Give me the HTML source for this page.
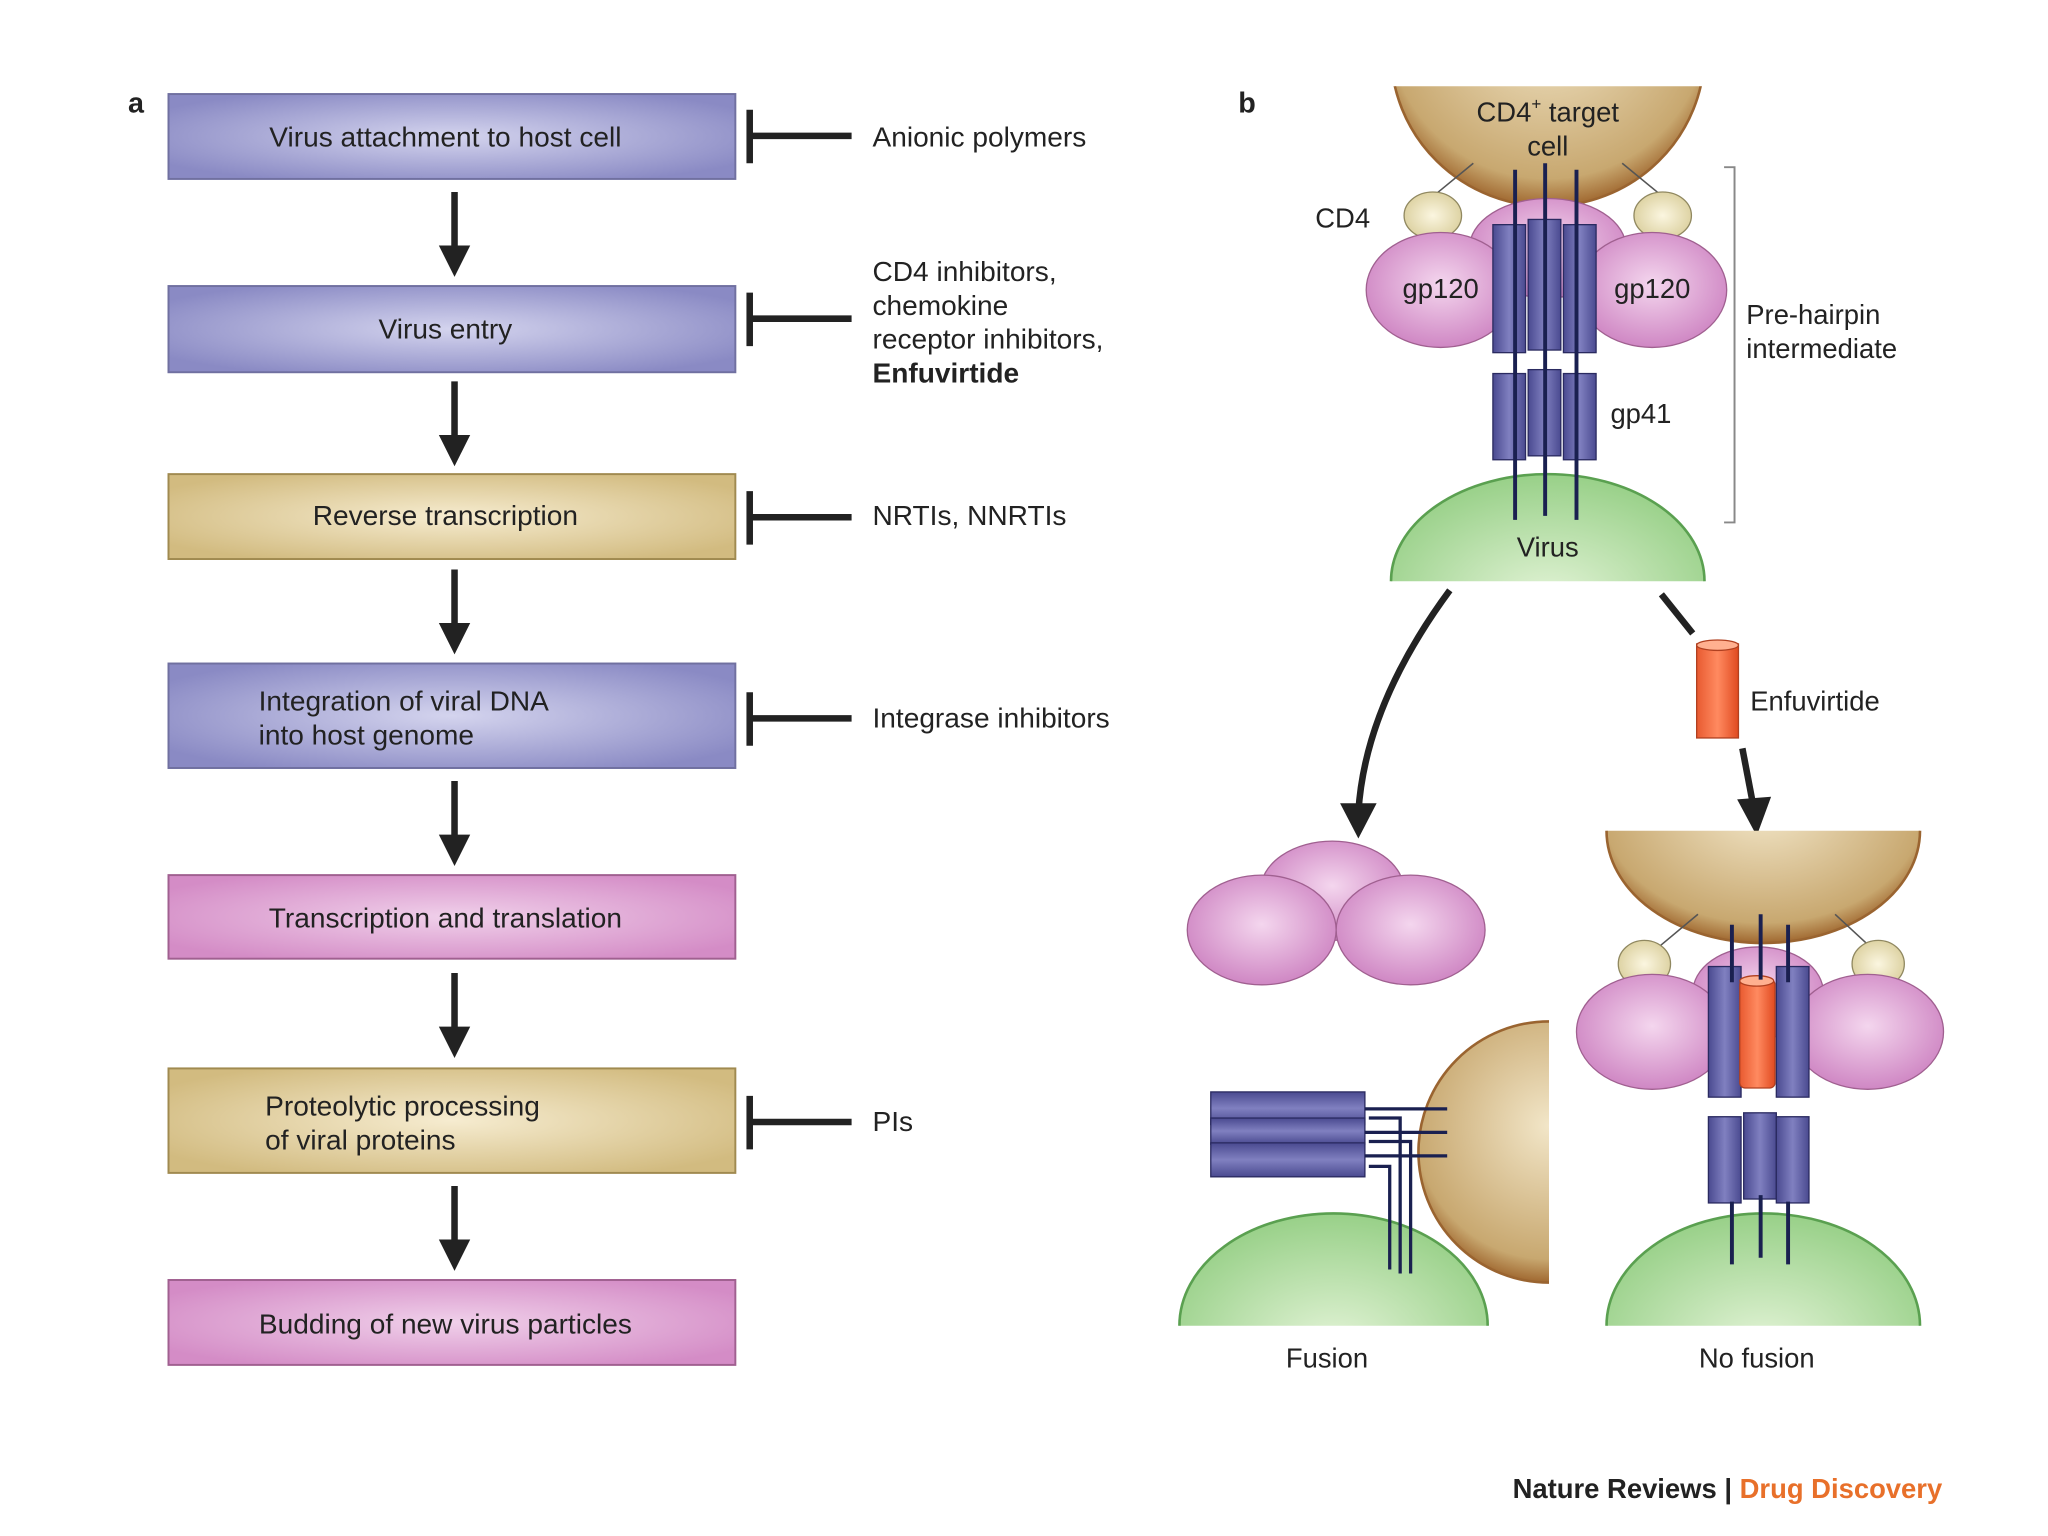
<!DOCTYPE html>
<html><head><meta charset="utf-8"><style>
html,body{margin:0;padding:0;background:#fff}
svg{display:block}
text{font-family:"Liberation Sans",sans-serif;fill:#222}
</style></head><body>
<svg width="2048" height="1536" viewBox="0 0 1568 1176" xmlns="http://www.w3.org/2000/svg">
<defs>
<radialGradient id="gb" cx="50%" cy="50%" r="60%"><stop offset="0" stop-color="#d4d4ee"/><stop offset="1" stop-color="#8a8ac4"/></radialGradient>
<radialGradient id="gt" cx="50%" cy="50%" r="60%"><stop offset="0" stop-color="#f6ecd0"/><stop offset="1" stop-color="#d2bb80"/></radialGradient>
<radialGradient id="gp" cx="50%" cy="50%" r="60%"><stop offset="0" stop-color="#f0d0ea"/><stop offset="1" stop-color="#d48cc6"/></radialGradient>
<radialGradient id="pk" cx="50%" cy="45%" r="60%"><stop offset="0" stop-color="#f4d6ee"/><stop offset="1" stop-color="#cc80c0"/></radialGradient>
<radialGradient id="br" cx="50%" cy="40%" r="60%"><stop offset="0" stop-color="#f2e6c8"/><stop offset="0.85" stop-color="#c8a870"/><stop offset="1" stop-color="#a06830"/></radialGradient>
<radialGradient id="gr" cx="50%" cy="60%" r="60%"><stop offset="0" stop-color="#e4f4d8"/><stop offset="1" stop-color="#98d088"/></radialGradient>
<radialGradient id="cd" cx="50%" cy="50%" r="60%"><stop offset="0" stop-color="#fbf6e0"/><stop offset="1" stop-color="#d8cc98"/></radialGradient>
<linearGradient id="cy" x1="0" x2="1"><stop offset="0" stop-color="#4a4a90"/><stop offset="0.5" stop-color="#8080c0"/><stop offset="1" stop-color="#4a4a90"/></linearGradient>
<linearGradient id="cyh" x1="0" y1="0" x2="0" y2="1"><stop offset="0" stop-color="#4a4a90"/><stop offset="0.5" stop-color="#8080c0"/><stop offset="1" stop-color="#4a4a90"/></linearGradient>
<linearGradient id="or" x1="0" x2="1"><stop offset="0" stop-color="#e85a30"/><stop offset="0.5" stop-color="#ff8a60"/><stop offset="1" stop-color="#e04a20"/></linearGradient>
<clipPath id="c1"><rect x="0" y="66" width="1568" height="400"/></clipPath>
<clipPath id="c2"><rect x="0" y="0" width="1568" height="445"/></clipPath>
<clipPath id="c3"><rect x="0" y="0" width="1568" height="1015"/></clipPath>
<clipPath id="c4"><rect x="900" y="0" width="286" height="1176"/></clipPath>
<clipPath id="c5"><rect x="0" y="636" width="1568" height="300"/></clipPath>
</defs>

<text x="98" y="86" font-size="22" font-weight="bold">a</text>
<g stroke="#7070a0" stroke-width="1.5">
<rect x="129" y="72" width="434" height="65" fill="url(#gb)"/>
<rect x="129" y="219" width="434" height="66" fill="url(#gb)"/>
<rect x="129" y="363" width="434" height="65" fill="url(#gt)" stroke="#a08a50"/>
<rect x="129" y="508" width="434" height="80" fill="url(#gb)"/>
<rect x="129" y="670" width="434" height="64" fill="url(#gp)" stroke="#a06090"/>
<rect x="129" y="818" width="434" height="80" fill="url(#gt)" stroke="#a08a50"/>
<rect x="129" y="980" width="434" height="65" fill="url(#gp)" stroke="#a06090"/>
</g>
<g font-size="21.5">
<text x="341" y="112" text-anchor="middle">Virus attachment to host cell</text>
<text x="341" y="259" text-anchor="middle">Virus entry</text>
<text x="341" y="402" text-anchor="middle">Reverse transcription</text>
<text x="198" y="544">Integration of viral DNA</text>
<text x="198" y="570">into host genome</text>
<text x="341" y="710" text-anchor="middle">Transcription and translation</text>
<text x="203" y="854">Proteolytic processing</text>
<text x="203" y="880">of viral proteins</text>
<text x="341" y="1021" text-anchor="middle">Budding of new virus particles</text>
</g>
<g stroke="#222" stroke-width="5" fill="none">
<line x1="348" y1="147" x2="348" y2="192"/>
<line x1="348" y1="292" x2="348" y2="337"/>
<line x1="348" y1="436" x2="348" y2="481"/>
<line x1="348" y1="598" x2="348" y2="643"/>
<line x1="348" y1="745" x2="348" y2="790"/>
<line x1="348" y1="908" x2="348" y2="953"/>
</g>
<g fill="#222">
<path d="M336,188 L360,188 L348,212 z"/>
<path d="M336,333 L360,333 L348,357 z"/>
<path d="M336,477 L360,477 L348,501 z"/>
<path d="M336,639 L360,639 L348,663 z"/>
<path d="M336,786 L360,786 L348,810 z"/>
<path d="M336,949 L360,949 L348,973 z"/>
</g>
<g stroke="#222" stroke-width="5">
<line x1="574" y1="84" x2="574" y2="125"/><line x1="574" y1="104" x2="652" y2="104"/>
<line x1="574" y1="224" x2="574" y2="265"/><line x1="574" y1="244" x2="652" y2="244"/>
<line x1="574" y1="376" x2="574" y2="417"/><line x1="574" y1="396" x2="652" y2="396"/>
<line x1="574" y1="530" x2="574" y2="571"/><line x1="574" y1="550" x2="652" y2="550"/>
<line x1="574" y1="839" x2="574" y2="880"/><line x1="574" y1="859" x2="652" y2="859"/>
</g>
<g font-size="21.5">
<text x="668" y="112">Anionic polymers</text>
<text x="668" y="215">CD4 inhibitors,</text>
<text x="668" y="241">chemokine</text>
<text x="668" y="267">receptor inhibitors,</text>
<text x="668" y="293" font-weight="bold">Enfuvirtide</text>
<text x="668" y="402">NRTIs, NNRTIs</text>
<text x="668" y="557">Integrase inhibitors</text>
<text x="668" y="866">PIs</text>
</g>

<text x="948" y="86" font-size="22" font-weight="bold">b</text>
<ellipse cx="1185" cy="40" rx="120" ry="118" fill="url(#br)" stroke="#9a6430" stroke-width="2" clip-path="url(#c1)"/>
<text x="1185" y="93" font-size="21" text-anchor="middle">CD4<tspan font-size="13" dy="-9">+</tspan><tspan dy="9"> target</tspan></text>
<text x="1185" y="119" font-size="21" text-anchor="middle">cell</text>
<line x1="1128" y1="125" x2="1100" y2="148" stroke="#555" stroke-width="1.2"/>
<line x1="1242" y1="125" x2="1270" y2="148" stroke="#555" stroke-width="1.2"/>
<ellipse cx="1185" cy="445" rx="120" ry="82" fill="url(#gr)" stroke="#5aa050" stroke-width="2" clip-path="url(#c2)"/>
<ellipse cx="1185" cy="190" rx="60" ry="38" fill="url(#pk)" stroke="#a06090"/>
<ellipse cx="1097" cy="165" rx="22" ry="18" fill="url(#cd)" stroke="#908860"/>
<ellipse cx="1273" cy="165" rx="22" ry="18" fill="url(#cd)" stroke="#908860"/>
<ellipse cx="1103" cy="222" rx="57" ry="44" fill="url(#pk)" stroke="#a06090"/>
<ellipse cx="1265" cy="222" rx="57" ry="44" fill="url(#pk)" stroke="#a06090"/>
<g stroke="#2a2a60" stroke-width="1">
<rect x="1170" y="168" width="25" height="100" fill="url(#cy)"/>
<rect x="1143" y="172" width="25" height="98" fill="url(#cy)"/>
<rect x="1197" y="172" width="25" height="98" fill="url(#cy)"/>
<rect x="1170" y="283" width="25" height="66" fill="url(#cy)"/>
<rect x="1143" y="286" width="25" height="66" fill="url(#cy)"/>
<rect x="1197" y="286" width="25" height="66" fill="url(#cy)"/>
</g>
<g stroke="#1a2050" stroke-width="3">
<line x1="1160" y1="130" x2="1160" y2="398"/><line x1="1183" y1="125" x2="1183" y2="395"/><line x1="1207" y1="130" x2="1207" y2="398"/>
</g>
<text x="1103" y="228" font-size="21" text-anchor="middle">gp120</text>
<text x="1265" y="228" font-size="21" text-anchor="middle">gp120</text>
<text x="1007" y="174" font-size="21">CD4</text>
<text x="1233" y="324" font-size="21">gp41</text>
<text x="1185" y="426" font-size="21" text-anchor="middle">Virus</text>
<path d="M1320,128 L1328,128 L1328,400 L1320,400" fill="none" stroke="#888" stroke-width="1.5"/>
<text x="1337" y="248" font-size="21">Pre-hairpin</text>
<text x="1337" y="274" font-size="21">intermediate</text>

<path d="M1110,452 Q1045,540 1040,622" fill="none" stroke="#222" stroke-width="5"/>
<path d="M1026,615 L1054,615 L1040,642 z" fill="#222"/>
<line x1="1272" y1="455" x2="1296" y2="485" stroke="#222" stroke-width="5"/>
<rect x="1299" y="493" width="32" height="72" fill="url(#or)" stroke="#b04020"/>
<ellipse cx="1315" cy="494" rx="16" ry="4" fill="#ffb090" stroke="#b04020"/>
<text x="1340" y="544" font-size="21">Enfuvirtide</text>
<line x1="1334" y1="573" x2="1342" y2="615" stroke="#222" stroke-width="5"/>
<path d="M1330,612 L1356,610 L1345,640 z" fill="#222"/>

<ellipse cx="1020" cy="682" rx="55" ry="38" fill="url(#pk)" stroke="#a06090"/>
<ellipse cx="966" cy="712" rx="57" ry="42" fill="url(#pk)" stroke="#a06090"/>
<ellipse cx="1080" cy="712" rx="57" ry="42" fill="url(#pk)" stroke="#a06090"/>
<ellipse cx="1186" cy="882" rx="100" ry="100" fill="url(#br)" stroke="#9a6430" stroke-width="2" clip-path="url(#c4)"/>
<ellipse cx="1021" cy="1015" rx="118" ry="86" fill="url(#gr)" stroke="#5aa050" stroke-width="2" clip-path="url(#c3)"/>
<g stroke="#2a2a60" stroke-width="1">
<rect x="927" y="836" width="118" height="25" fill="url(#cyh)"/>
<rect x="927" y="856" width="118" height="20" fill="url(#cyh)"/>
<rect x="927" y="875" width="118" height="26" fill="url(#cyh)"/>
</g>
<g stroke="#1a2050" stroke-width="2.5" fill="none">
<path d="M1045,849 L1108,849"/><path d="M1045,867 L1108,867"/><path d="M1045,885 L1108,885"/>
<path d="M1048,856 L1072,856 L1072,975"/><path d="M1048,874 L1080,874 L1080,975"/><path d="M1048,893 L1064,893 L1064,972"/>
</g>
<text x="1016" y="1047" font-size="21" text-anchor="middle">Fusion</text>

<ellipse cx="1350" cy="636" rx="120" ry="86" fill="url(#br)" stroke="#9a6430" stroke-width="2" clip-path="url(#c5)"/>
<ellipse cx="1350" cy="1015" rx="120" ry="86" fill="url(#gr)" stroke="#5aa050" stroke-width="2" clip-path="url(#c3)"/>
<line x1="1300" y1="700" x2="1270" y2="725" stroke="#555" stroke-width="1.2"/>
<line x1="1405" y1="700" x2="1432" y2="725" stroke="#555" stroke-width="1.2"/>
<ellipse cx="1346" cy="760" rx="50" ry="35" fill="url(#pk)" stroke="#a06090"/>
<ellipse cx="1259" cy="738" rx="20" ry="18" fill="url(#cd)" stroke="#908860"/>
<ellipse cx="1438" cy="738" rx="20" ry="18" fill="url(#cd)" stroke="#908860"/>
<ellipse cx="1265" cy="790" rx="58" ry="44" fill="url(#pk)" stroke="#a06090"/>
<ellipse cx="1430" cy="790" rx="58" ry="44" fill="url(#pk)" stroke="#a06090"/>
<g stroke="#2a2a60" stroke-width="1">
<rect x="1308" y="740" width="25" height="100" fill="url(#cy)"/>
<rect x="1360" y="740" width="25" height="100" fill="url(#cy)"/>
<rect x="1308" y="855" width="25" height="66" fill="url(#cy)"/>
<rect x="1335" y="852" width="25" height="66" fill="url(#cy)"/>
<rect x="1360" y="855" width="25" height="66" fill="url(#cy)"/>
</g>
<rect x="1332" y="750" width="27" height="83" rx="4" fill="url(#or)" stroke="#b04020"/>
<ellipse cx="1345" cy="751" rx="13" ry="4" fill="#ffb090" stroke="#b04020"/>
<g stroke="#1a2050" stroke-width="3">
<line x1="1326" y1="708" x2="1326" y2="752"/><line x1="1348" y1="700" x2="1348" y2="750"/><line x1="1369" y1="708" x2="1369" y2="752"/>
<line x1="1326" y1="920" x2="1326" y2="968"/><line x1="1348" y1="915" x2="1348" y2="963"/><line x1="1369" y1="920" x2="1369" y2="968"/>
</g>
<text x="1345" y="1047" font-size="21" text-anchor="middle">No fusion</text>

<text x="1487" y="1147" font-size="21" font-weight="bold" text-anchor="end">Nature Reviews | <tspan fill="#e8702a">Drug Discovery</tspan></text>
</svg>
</body></html>
